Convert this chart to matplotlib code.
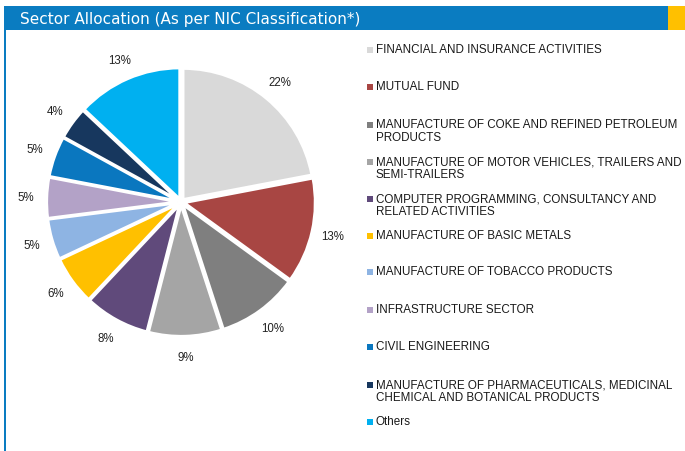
import matplotlib.pyplot as plt
from matplotlib.patches import Rectangle

# sector weights (%), clockwise from 12 o'clock
sectors = [
    "FINANCIAL AND INSURANCE ACTIVITIES",
    "MUTUAL FUND",
    "MANUFACTURE OF COKE AND REFINED PETROLEUM\nPRODUCTS",
    "MANUFACTURE OF MOTOR VEHICLES, TRAILERS AND\nSEMI-TRAILERS",
    "COMPUTER PROGRAMMING, CONSULTANCY AND\nRELATED ACTIVITIES",
    "MANUFACTURE OF BASIC METALS",
    "MANUFACTURE OF TOBACCO PRODUCTS",
    "INFRASTRUCTURE SECTOR",
    "CIVIL ENGINEERING",
    "MANUFACTURE OF PHARMACEUTICALS, MEDICINAL\nCHEMICAL AND BOTANICAL PRODUCTS",
    "Others",
]
weights = [22, 13, 10, 9, 8, 6, 5, 5, 5, 4, 13]
colors = ["#D9D9D9", "#A84643", "#7F7F7F", "#A5A5A5", "#604A7B", "#FFC000",
          "#8EB4E3", "#B3A2C7", "#0A77BF", "#17375E", "#00B0F0"]

W, H = 685, 452
fig = plt.figure(figsize=(W / 100, H / 100), dpi=100)
fig.patch.set_facecolor("white")

# header band + left rule
fig.add_artist(Rectangle((4 / W, 1 - 31 / H), 664 / W, 24 / H,
                         transform=fig.transFigure, color="#0A7CC1", lw=0))
fig.add_artist(Rectangle((668 / W, 1 - 31 / H), 17 / W, 24 / H,
                         transform=fig.transFigure, color="#FFC000", lw=0))
fig.add_artist(Rectangle((4 / W, 0), 2 / W, 1 - 31 / H,
                         transform=fig.transFigure, color="#0A7CC1", lw=0))
fig.text(20 / W, 1 - 19.5 / H, "Sector Allocation (As per NIC Classification*)",
         color="white", fontsize=11, va="center", ha="left")

# pie
R = 131
lim = 1.3
side = 2 * lim * R
cx, cy = 181, 203
ax = fig.add_axes([(cx - side / 2) / W, 1 - (cy + side / 2) / H, side / W, side / H])
wedges, texts, autotexts = ax.pie(
    weights, colors=colors, startangle=90, counterclock=False,
    explode=[0.025] * len(weights),
    wedgeprops=dict(edgecolor="white", linewidth=2),
    autopct="%.0f%%", pctdistance=1.16,
    textprops=dict(fontsize=8.3, color="#222222", family="Liberation Sans"))
ax.set_xlim(-lim, lim)
ax.set_ylim(-lim, lim)
ax.set_aspect("equal")
ax.axis("off")

# legend drawn by hand
legend_y = [50.7, 88, 125.7, 162.7, 200, 236.7, 273, 310.7, 347.7, 385.7, 422.7]
for name, col, y in zip(sectors, colors, legend_y):
    fig.add_artist(Rectangle((367 / W, 1 - (y + 3) / H), 6 / W, 6 / H,
                             transform=fig.transFigure, color=col, lw=0))
    fig.text(376 / W, 1 - (y - 6.5) / H, name, fontsize=8.4, color="#1a1a1a",
             va="top", ha="left", family="Liberation Sans", linespacing=1.1)

fig.savefig("out.png", dpi=100)
